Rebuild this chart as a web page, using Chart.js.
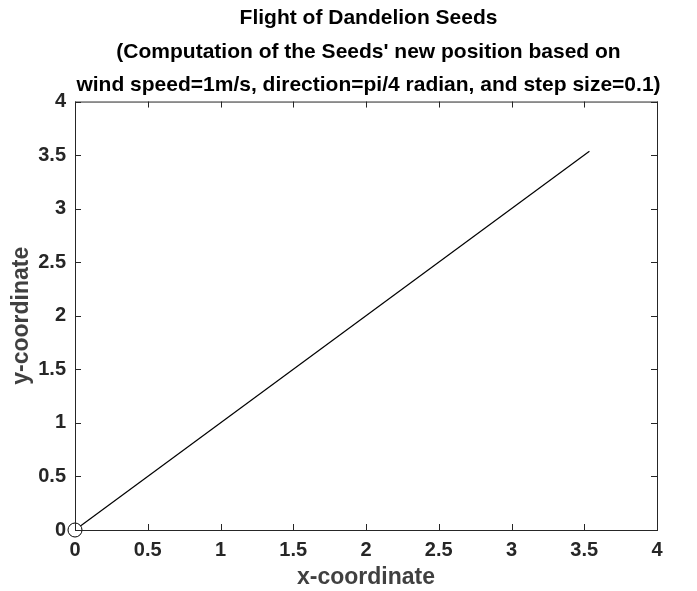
<!DOCTYPE html>
<html>
<head>
    <title>Flight of Dandelion Seeds</title>
    <script src="https://cdn.jsdelivr.net/npm/chart.js"></script>
    <style>
        body { margin: 0; background-color: #fff; }
        #wrap { width: 697px; height: 591px; }
    </style>
</head>
<body>
    <div id="wrap"><canvas id="seedChart" width="697" height="591"></canvas></div>

    <script>
        // seed path: start point and final point after the steps
        const xPos = [0, 3.5355];
        const yPos = [0, 3.5355];
        const tickValues = [0, 0.5, 1, 1.5, 2, 2.5, 3, 3.5, 4];
        const titleLines = [
            'Flight of Dandelion Seeds',
            "(Computation of the Seeds' new position based on",
            'wind speed=1m/s, direction=pi/4 radian, and step size=0.1)'
        ];

        const axisColor = '#262626';
        const fontName = "'Liberation Sans', Arial, sans-serif";

        // MATLAB style box with inward ticks on all four sides
        const boxPlugin = {
            id: 'boxTicks',
            afterLayout(chart) {
                // center the title over the axes like matlab does
                if (chart.titleBlock) {
                    chart.titleBlock.left += 40;
                    chart.titleBlock.right += 40;
                }
            },
            afterDraw(chart) {
                const { ctx, chartArea: a, scales } = chart;
                const len = 6;
                ctx.save();
                ctx.strokeStyle = axisColor;
                ctx.lineWidth = 1;
                ctx.strokeRect(a.left + 0.5, a.top + 0.5, a.right - a.left, a.bottom - a.top);
                ctx.beginPath();
                for (const v of tickValues) {
                    const px = Math.round(scales.x.getPixelForValue(v)) + 0.5;
                    ctx.moveTo(px, a.bottom); ctx.lineTo(px, a.bottom - len);
                    ctx.moveTo(px, a.top); ctx.lineTo(px, a.top + len);
                    const py = Math.round(scales.y.getPixelForValue(v)) + 0.5;
                    ctx.moveTo(a.left, py); ctx.lineTo(a.left + len, py);
                    ctx.moveTo(a.right, py); ctx.lineTo(a.right - len, py);
                }
                ctx.stroke();
                ctx.restore();
            }
        };

        const ctx = document.getElementById('seedChart').getContext('2d');
        const seedChart = new Chart(ctx, {
            type: 'scatter',
            data: {
                datasets: [{
                    label: 'seed path',
                    data: xPos.map((x, i) => ({ x: x, y: yPos[i] })),
                    showLine: true,
                    clip: false,
                    borderColor: '#000',
                    borderWidth: 1.2,
                    pointRadius: xPos.map((x, i) => i === 0 ? 7 : 0),
                    pointBackgroundColor: '#fff',
                    pointBorderColor: '#000',
                    pointBorderWidth: 1,
                    fill: false
                }]
            },
            options: {
                responsive: false,
                animation: false,
                layout: { padding: { left: 0, right: 40, top: 0, bottom: 0 } },
                plugins: {
                    legend: { display: false },
                    tooltip: { enabled: false },
                    title: {
                        display: true,
                        text: titleLines,
                        color: '#000',
                        font: { family: fontName, size: 21, weight: 'bold', lineHeight: 1.58 },
                        padding: { top: 2, bottom: 0 }
                    }
                },
                scales: {
                    x: {
                        type: 'linear',
                        min: 0,
                        max: 4,
                        afterBuildTicks(scale) { scale.ticks = tickValues.map(v => ({ value: v })); },
                        afterFit(scale) { scale.height = 61; },
                        grid: { display: false, drawTicks: false },
                        border: { display: false },
                        ticks: {
                            color: axisColor,
                            padding: 8,
                            font: { family: fontName, size: 20, weight: 'bold' },
                            maxRotation: 0,
                            callback: v => String(v)
                        },
                        title: {
                            display: true,
                            text: 'x-coordinate',
                            color: '#404040',
                            font: { family: fontName, size: 23, weight: 'bold' },
                            padding: { top: 0, bottom: 0 }
                        }
                    },
                    y: {
                        type: 'linear',
                        min: 0,
                        max: 4,
                        afterBuildTicks(scale) { scale.ticks = tickValues.map(v => ({ value: v })); },
                        afterFit(scale) { scale.width = 75; },
                        grid: { display: false, drawTicks: false },
                        border: { display: false },
                        ticks: {
                            color: axisColor,
                            padding: 9,
                            font: { family: fontName, size: 20, weight: 'bold' },
                            callback: v => String(v)
                        },
                        title: {
                            display: true,
                            text: 'y-coordinate',
                            color: '#404040',
                            font: { family: fontName, size: 23, weight: 'bold' },
                            padding: { top: 8, bottom: 0 }
                        }
                    }
                }
            },
            plugins: [boxPlugin]
        });
    </script>
</body>
</html>
